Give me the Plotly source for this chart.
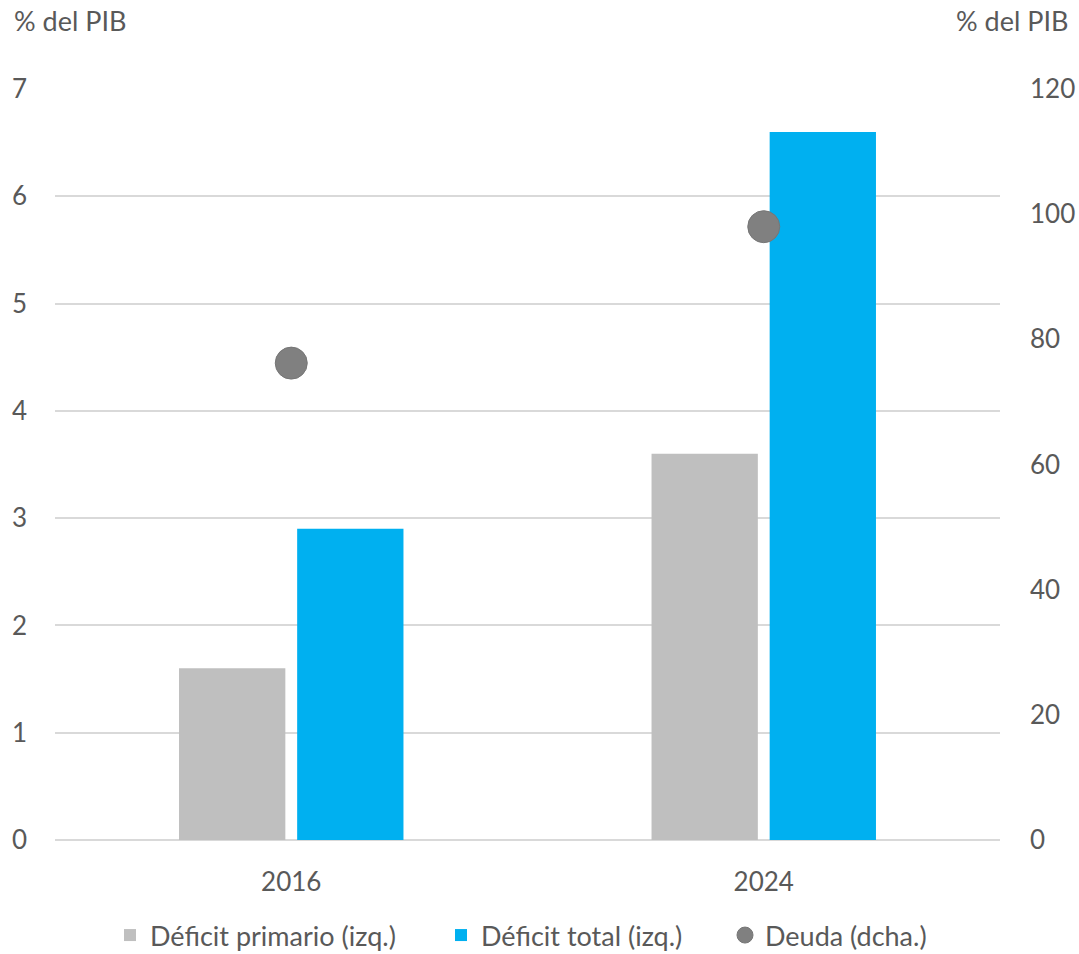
import plotly.graph_objects as go

categories = ["2016", "2024"]
deficit_primario = [1.6, 3.6]
deficit_total = [2.9, 6.6]
deuda = [76.2, 98.0]
left_ticks = [0, 1, 2, 3, 4, 5, 6, 7]
right_ticks = [0, 20, 40, 60, 80, 100, 120]

FONT = "Lato, Liberation Sans, sans-serif"
TXT = "#595959"
FS = 26
FS_LEG = 27

FIG_W, FIG_H = 1079, 954
PL, PR, PT, PB = 55, 1000, 89, 840
W = float(PR - PL)
H = float(PB - PT)

def lx(px):
    return (px - PL) / W

def ly(py):
    return (PB - py) / H

fig = go.Figure()
fig.add_trace(go.Bar(x=categories, y=deficit_primario, name="Déficit primario (izq.)",
                     marker=dict(color="#bfbfbf", line=dict(width=0)), legend="legend"))
fig.add_trace(go.Bar(x=categories, y=deficit_total, name="Déficit total (izq.)",
                     marker=dict(color="#00b0f0", line=dict(width=0)), legend="legend2"))
fig.add_trace(go.Scatter(x=categories, y=deuda, name="Deuda (dcha.)", mode="markers",
                         yaxis="y2", legend="legend3",
                         marker=dict(color="#808080", size=32, line=dict(color="#767676", width=1))))

leg_common = dict(orientation="h", yanchor="bottom", xanchor="left",
                  y=ly(960), font=dict(size=FS_LEG, color=TXT),
                  itemwidth=30, bgcolor="rgba(0,0,0,0)", borderwidth=0)

fig.update_layout(
    width=FIG_W, height=FIG_H,
    paper_bgcolor="white", plot_bgcolor="white",
    margin=dict(l=PL, r=FIG_W - PR, t=PT, b=FIG_H - PB, autoexpand=False),
    font=dict(family=FONT, size=FS, color=TXT),
    barmode="group", bargap=0.5, bargroupgap=0.1,
    showlegend=True,
    legend=dict(leg_common, x=lx(110)),
    legend2=dict(leg_common, x=lx(441)),
    legend3=dict(leg_common, x=lx(725)),
    xaxis=dict(type="category", showgrid=False, showline=False, ticks="",
               tickfont=dict(size=FS, color=TXT), ticklabelstandoff=24, automargin=False),
    yaxis=dict(range=[0, 7], tickvals=left_ticks, showgrid=True, gridcolor="#d9d9d9",
               gridwidth=1.5, zeroline=True, zerolinecolor="#d9d9d9", zerolinewidth=1.5,
               showline=False, ticks="", tickfont=dict(size=FS, color=TXT),
               ticklabelstandoff=27, automargin=False),
    yaxis2=dict(range=[0, 120], tickvals=right_ticks, overlaying="y", side="right",
                showgrid=False, zeroline=False, showline=False, ticks="",
                tickfont=dict(size=FS, color=TXT), ticklabelstandoff=29, automargin=False),
    annotations=[
        dict(text="% del PIB", xref="paper", yref="paper", x=lx(12), y=ly(21),
             xanchor="left", yanchor="middle", showarrow=False,
             font=dict(size=FS_LEG, color=TXT)),
        dict(text="% del PIB", xref="paper", yref="paper", x=lx(1070), y=ly(21),
             xanchor="right", yanchor="middle", showarrow=False,
             font=dict(size=FS_LEG, color=TXT)),
    ],
)

fig.write_html(
    "out.html",
    config={"displayModeBar": False},
    post_script=("document.body.style.margin='0';"
                 "document.body.style.padding='0';"
                 "document.documentElement.style.overflow='hidden';"),
)
